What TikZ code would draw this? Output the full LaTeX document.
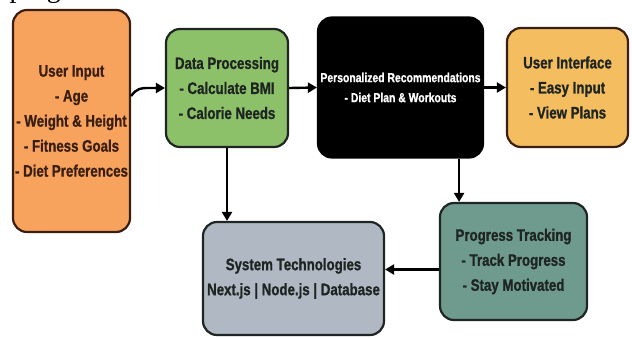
\documentclass[tikz,border=0pt]{standalone}
\usepackage{fontspec}
\setmainfont{Liberation Sans}[FakeStretch=0.8, BoldFeatures={FakeBold=1}]
\newfontfamily\serifont{Liberation Serif}
\usetikzlibrary{arrows.meta}
\definecolor{cOrange}{HTML}{F7A35E}
\definecolor{cGreen}{HTML}{8CC069}
\definecolor{cYellow}{HTML}{F4BD60}
\definecolor{cTeal}{HTML}{6F9B8E}
\definecolor{cGray}{HTML}{B0B9C3}
\definecolor{cBrown}{HTML}{3A1E10}
\definecolor{cDark}{HTML}{1E2522}
\tikzset{
  box/.style={draw=cDark, line width=2.2pt, rounded corners=14pt, align=center, inner sep=0pt,
    font=\bfseries\fontsize{16.6}{25}\selectfont, text=cDark},
  conn/.style={line width=2.4pt, draw=black, -{Triangle[length=9pt,width=10pt]}},
}
\begin{document}
\begin{tikzpicture}[x=1pt,y=-1pt]
\useasboundingbox (0,0) rectangle (632,338);
\node[font=\serifont\fontsize{28}{28}\selectfont, anchor=base west] (ptext) at (6,-3) {program};
\node[box, fill=cOrange, draw=cBrown, text=cBrown, minimum width=117pt, minimum height=222pt] (uin) at (71.5,121)
  {User Input\\- Age\\- Weight \& Height\\- Fitness Goals\\- Diet Preferences};
\node[box, fill=cGreen, minimum width=122pt, minimum height=118pt] (dp) at (227,88)
  {Data Processing\\- Calculate BMI\\- Calorie Needs};
\node[box, fill=black, draw=black, text=white, minimum width=165pt, minimum height=140pt,
  font=\bfseries\fontsize{13}{20}\selectfont] (pr) at (400.5,87.5)
  {Personalized Recommendations\\- Diet Plan \& Workouts};
\node[box, fill=cYellow, draw=cBrown, minimum width=121pt, minimum height=119pt] (ui) at (567.5,87.5)
  {User Interface\\- Easy Input\\- View Plans};
\node[box, fill=cTeal, minimum width=147pt, minimum height=117pt] (pt) at (513.5,261.5)
  {Progress Tracking\\- Track Progress\\- Stay Motivated};
\node[box, fill=cGray, minimum width=181pt, minimum height=113pt] (st) at (293.5,278.5)
  {System Technologies\\Next.js | Node.js | Database};
\draw[conn] ([yshift=25pt]uin.east) .. controls +(6,-8) and +(-8,0) .. ([xshift=-16pt]dp.west) -- (dp.west);
\draw[conn] (dp.east) -- (pr.west);
\draw[conn] (pr.east) -- (ui.west);
\draw[conn] (dp.south) -- (dp.south |- st.north);
\draw[conn] ([xshift=-25pt]pr.south east) -- ([xshift=-25pt]pr.south east |- pt.north);
\draw[conn] ([yshift=-8pt]pt.west) -- ([yshift=-8pt]pt.west -| st.east);
\end{tikzpicture}
\end{document}
